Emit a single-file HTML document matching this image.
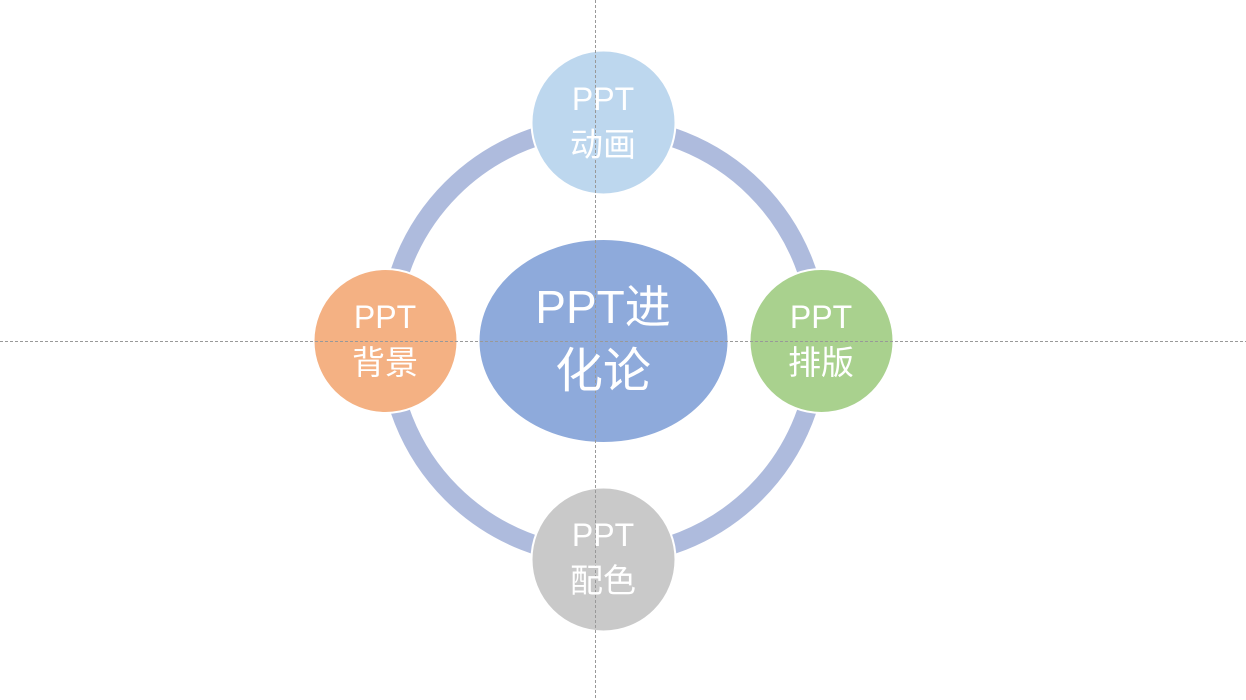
<!DOCTYPE html>
<html><head><meta charset="utf-8"><style>
html,body{margin:0;padding:0;background:#fff;width:1246px;height:700px;overflow:hidden}
svg text{font-family:"Liberation Sans","Noto Sans CJK SC",sans-serif;fill:#fff;text-anchor:middle}
</style></head><body>
<svg width="1246" height="700" viewBox="0 0 1246 700" xmlns="http://www.w3.org/2000/svg">
<circle cx="603.5" cy="341" r="215" fill="none" stroke="#aebbdd" stroke-width="19"/>
<ellipse cx="603.5" cy="341" rx="125" ry="102" fill="#8eaadb" stroke="#fff" stroke-width="2"/>
<circle cx="603.5" cy="122.5" r="72" fill="#bdd7ee" stroke="#fff" stroke-width="2"/>
<circle cx="385.5" cy="341" r="72" fill="#f4b183" stroke="#fff" stroke-width="2"/>
<circle cx="821.5" cy="341" r="72" fill="#a9d18e" stroke="#fff" stroke-width="2"/>
<circle cx="603.5" cy="559.5" r="72" fill="#c9c9c9" stroke="#fff" stroke-width="2"/>
<line x1="595.5" y1="0" x2="595.5" y2="700" stroke="#999" stroke-width="1" stroke-dasharray="3,2"/>
<line x1="0" y1="341.5" x2="1246" y2="341.5" stroke="#999" stroke-width="1" stroke-dasharray="3,2"/>
<text x="603" y="110" font-size="32">PPT</text>
<text x="603" y="156" font-size="33">动画</text>
<text x="385" y="328" font-size="32">PPT</text>
<text x="385" y="374" font-size="33">背景</text>
<text x="821" y="328" font-size="32">PPT</text>
<text x="821" y="374" font-size="33">排版</text>
<text x="603" y="546" font-size="32">PPT</text>
<text x="603" y="592" font-size="33">配色</text>
<text x="603" y="323" font-size="46">PPT进</text>
<text x="603" y="387" font-size="48">化论</text>
</svg>
</body></html>
